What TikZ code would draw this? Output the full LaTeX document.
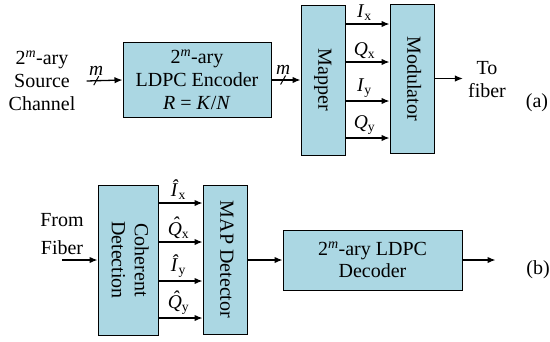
\documentclass[tikz,border=0pt]{standalone}
\usepackage{fontspec}
\setmainfont{Liberation Serif}
\usepackage{graphicx}
\usepackage{xcolor}
\definecolor{boxblue}{HTML}{ABD7E3}
\usepackage{tikz}
\usetikzlibrary{arrows.meta, positioning, calc}

\newcommand{\vtext}[1]{\rotatebox{-90}{\begin{tabular}{@{}c@{}}#1\end{tabular}}}
\newcommand{\qhat}{\ooalign{\textit{Q}\cr\hidewidth\raisebox{0.22em}{\kern0.12em\textit{ˆ}}\hidewidth\cr}}

\begin{document}
\begin{tikzpicture}[x=1pt, y=-1pt,
    block/.style={rectangle, draw=black, fill=boxblue, line width=1pt, align=center, inner sep=0pt, font=\fontsize{20}{23}\selectfont},
    txt/.style={align=center, inner sep=0pt, font=\fontsize{20}{23}\selectfont},
    sig/.style={inner sep=0pt, font=\fontsize{19.5}{21}\selectfont},
    arr/.style={-{Latex[length=8pt, width=6.5pt]}, line width=1.3pt},
    tick/.style={line width=1pt},
]
    \useasboundingbox (0,0) rectangle (550,341);

    % (a) transmitter
    \node[txt] (src) at (42,81) {2\textsuperscript{\textit{m}}-ary\\Source\\Channel};
    \node[block, minimum width=148pt, minimum height=75pt] (enc) at (197,80) {2\textsuperscript{\textit{m}}-ary\\LDPC Encoder\\\textit{R} = \textit{K}/\textit{N}};
    \node[block, minimum width=44pt, minimum height=150pt] (mapper) at (323,80) {\vtext{Mapper}};
    \node[block, minimum width=44pt, minimum height=149pt] (mod) at (412,78.5) {\vtext{Modulator}};
    \node[txt] (tofib) at (487,80) {To\\fiber};
    \node[txt] (lbla) at (537,103) {(a)};

    \draw[arr] ([xshift=11pt]src.east) -- (enc.west)
        coordinate[pos=0.27] (s1);
    \draw[arr] (enc.east) -- (mapper.west |- enc.east)
        coordinate[pos=0.4] (s2);
    \foreach \sl in {s1, s2} {
        \draw[tick] (\sl) +(-2.5,4.5) -- +(2.5,-4.5);
        \node[sig, above=5pt of \sl] (m-\sl) {\textit{m}};
    }

    \foreach \yy/\lab [count=\i] in {24/{\textit{I}\textsubscript{x}}, 62/{\textit{Q}\textsubscript{x}}, 101/{\textit{I}\textsubscript{y}}, 138/{\textit{Q}\textsubscript{y}}}
        \draw[arr] (mapper.east |- 0,\yy) -- (mod.west |- 0,\yy)
            node[sig, midway, above=3pt, xshift=-3pt] (tx\i) {\lab};

    \draw[arr, shorten >=5pt] (mod.east) -- (tofib.west |- mod.east);

    % (b) receiver
    \node[txt] (from) at (62,234) {From\\[5pt]Fiber};
    \node[block, minimum width=60pt, minimum height=150pt] (coh) at (128,260) {\vtext{Coherent\\Detection}};
    \node[block, minimum width=44pt, minimum height=149pt] (map) at (225,259.5) {\vtext{MAP Detector}};
    \node[block, minimum width=179pt, minimum height=60pt, font=\fontsize{20}{22}\selectfont] (dec) at (372.5,260) {2\textsuperscript{\textit{m}}-ary LDPC\\Decoder};
    \coordinate[right=33pt of dec.east] (decout);
    \node[txt] (lblb) at (538,270) {(b)};

    \draw[arr] (from.south |- coh.west) -- (coh.west);
    \foreach \yy/\lab [count=\i] in {203/{\textit{Î}\textsubscript{x}}, 242/{\qhat\textsubscript{x}}, 281/{\textit{Î}\textsubscript{y}}, 318/{\qhat\textsubscript{y}}}
        \draw[arr] (coh.east |- 0,\yy) -- (map.west |- 0,\yy)
            node[sig, midway, above=3pt, xshift=-2pt] (rx\i) {\lab};
    \draw[arr] (map.east |- dec.west) -- (dec.west);
    \draw[arr] (dec.east) -- (decout);
\end{tikzpicture}
\end{document}
